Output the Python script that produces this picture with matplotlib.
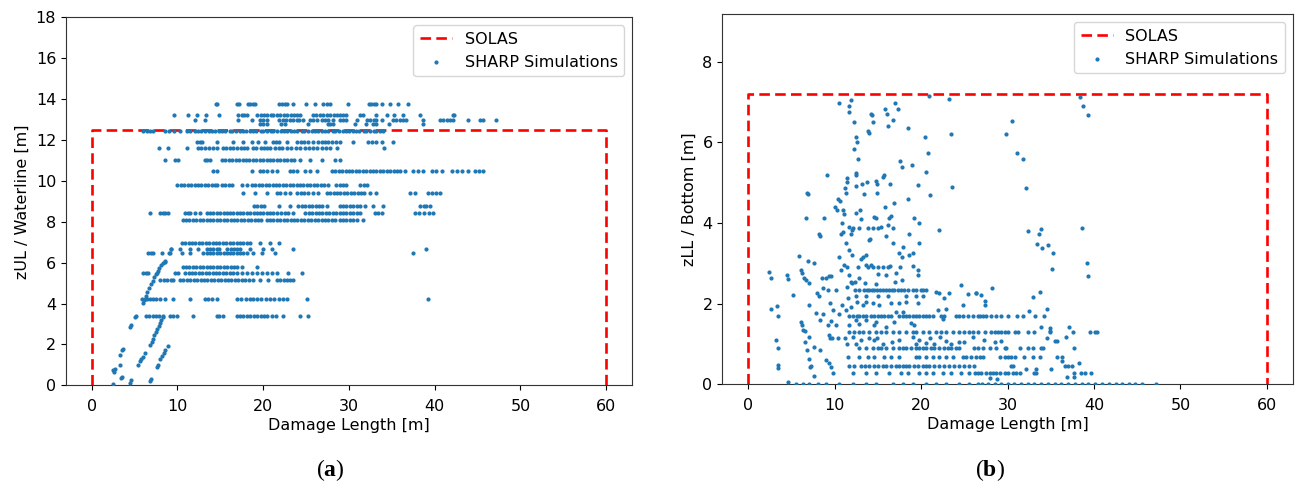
import numpy as np
import matplotlib.pyplot as plt

plt.rcParams['font.family'] = ['DejaVu Sans']
plt.rcParams['font.size'] = 11.5
plt.rcParams['xtick.major.pad'] = 6

# SOLAS damage envelopes
solas_x = [0, 0, 60, 60]
solas_a_y = [0, 12.5, 12.5, 0]
solas_b_y = [0, 7.2, 7.2, 0]

# ---- panel (a): zUL / waterline, points grouped by horizontal level ----
a_rows = {
    13.75: [14.5, 14.6, 17.0, 17.2, 18.2, 18.5, 18.8, 19.1, 21.9, 22.2, 22.5, 22.8, 23.5, 25.0, 26.0,
            27.0, 27.4, 27.8, 29.9, 32.3, 32.6, 32.9, 33.2, 33.8, 34.8, 35.7, 36.9],
    13.2: [9.6, 11.2, 12.3, 13.3, 14.9, 17.1, 17.5, 17.8, 18.1, 19.3, 19.7, 20.1, 20.5, 20.9, 21.1, 21.6,
           22.0, 22.4, 22.8, 23.2, 23.6, 24.0, 24.3, 25.8, 26.2, 26.6, 27.0, 27.4, 27.8, 28.2, 28.6, 29.0,
           29.3, 29.7, 31.3, 31.6, 33.2, 34.4, 35.3, 36.3, 38.3, 42.1, 42.3],
    12.97: [12.1, 13.2, 17.1, 18.7, 19.6, 20.0, 20.4, 21.9, 22.3, 22.7, 23.1, 23.5, 23.9, 24.2, 24.6, 25.4,
            25.8, 26.3, 26.8, 27.2, 27.6, 28.1, 28.9, 29.3, 29.7, 30.9, 32.1, 32.5, 32.9, 33.2, 33.9, 35.1,
            35.5, 35.9, 36.3, 36.7, 38.6, 40.6, 41.0, 41.4, 41.8, 42.1, 43.9, 45.3, 45.6, 47.2],
    12.78: [19.6, 20.0, 20.4, 22.1, 22.5, 25.2, 27.5, 27.8, 28.1, 30.7, 32.0, 32.8, 33.2, 34.7, 38.6],
    12.45: [6.0, 6.4, 6.8, 7.2, 8.5, 9.0, 9.6, 10.3, 11.1, 11.5, 12.0, 12.4, 12.8, 13.2, 13.7, 14.0, 14.4,
            14.9, 15.2, 15.6, 16.1, 16.4, 16.8, 17.3, 17.6, 18.0, 18.5, 18.8, 19.2, 19.7, 20.0, 20.4, 20.9,
            21.2, 21.6, 22.1, 22.4, 22.8, 23.3, 23.6, 24.0, 24.5, 24.8, 25.2, 25.7, 26.0, 26.4, 26.9, 27.2,
            27.6, 28.1, 28.4, 28.8, 29.3, 29.6, 30.0, 30.5, 30.8, 31.2, 31.7, 32.0, 32.4, 32.9, 33.2, 33.6, 34.0],
    11.88: [12.3, 12.6, 12.9, 14.6, 16.5, 17.7, 18.7, 19.4, 20.2, 21.1, 21.5, 21.9, 22.8, 24.0, 24.4, 24.8,
            25.2, 25.8, 26.4, 26.8, 27.2, 27.6, 28.0, 28.5, 29.0, 30.5, 32.2, 32.7, 33.2, 33.8, 35.1],
    11.59: [7.9, 8.9, 11.1, 12.4, 12.8, 13.2, 13.7, 14.1, 14.6, 15.3, 15.7, 16.1, 16.5, 17.0, 17.4, 17.8,
            18.1, 18.8, 19.2, 19.7, 20.1, 20.5, 20.8, 21.4, 21.8, 22.2, 22.8, 23.3, 23.8, 24.3, 24.9, 25.3,
            25.8, 26.3, 26.8, 27.3, 27.8, 28.6, 34.1],
    11.02: [8.5, 9.7, 10.1, 13.2, 13.5, 13.8, 15.2, 15.6, 16.0, 16.4, 16.8, 17.2, 17.6, 18.0, 18.4, 18.8,
            19.2, 19.6, 20.0, 20.4, 20.8, 21.2, 21.6, 22.0, 22.4, 22.8, 23.2, 23.6, 24.3, 25.4, 26.8, 28.4, 28.9],
    10.5: [14.2, 14.6, 18.7, 19.6, 20.0, 20.4, 21.0, 21.6, 23.1, 23.5, 23.9, 24.9, 25.5, 26.3, 28.0, 28.4,
           28.8, 29.2, 29.6, 30.0, 30.4, 30.8, 31.2, 31.6, 32.0, 32.4, 32.8, 33.2, 33.6, 34.0, 34.4, 34.8,
           35.2, 35.6, 36.0, 36.5, 37.5, 38.0, 38.6, 39.7, 40.2, 40.8, 42.0, 42.6, 43.2, 43.9, 44.7, 45.2, 45.6],
    9.79: [10.0, 10.4, 10.8, 11.2, 11.6, 12.0, 12.4, 12.8, 13.2, 13.6, 14.0, 14.4, 14.6, 15.2, 15.6, 16.0,
           16.4, 17.5, 18.1, 18.7, 19.1, 19.5, 19.9, 20.3, 20.7, 21.1, 21.5, 21.9, 22.3, 22.7, 23.1, 23.5,
           23.9, 24.3, 24.7, 25.1, 25.5, 25.9, 26.3, 26.7, 27.1, 27.5, 28.5, 28.9, 29.3, 29.7, 31.3, 31.7, 32.1],
    9.42: [17.6, 19.0, 20.4, 21.6, 22.0, 22.5, 23.1, 24.0, 24.4, 24.8, 25.2, 25.8, 26.4, 27.4, 27.8, 28.2,
           28.6, 29.0, 29.4, 29.8, 30.2, 30.6, 31.0, 31.4, 31.8, 32.4, 33.2, 37.1, 37.7, 39.2, 39.7, 40.2, 40.6],
    8.78: [18.9, 19.3, 19.7, 20.1, 21.9, 23.1, 24.1, 24.5, 24.9, 25.3, 25.7, 26.1, 26.5, 26.9, 27.4, 28.9,
           29.3, 29.7, 30.1, 30.5, 30.9, 31.3, 31.9, 32.8, 34.0, 38.3, 38.7, 39.0, 39.4],
    8.44: [6.8, 8.0, 8.3, 8.6, 8.9, 10.9, 11.2, 11.5, 12.0, 12.6, 13.4, 13.8, 14.2, 14.6, 15.0, 15.4, 15.8,
           16.1, 16.5, 16.9, 17.3, 17.7, 18.1, 18.5, 18.9, 19.3, 19.6, 20.0, 20.4, 20.8, 21.2, 21.6, 22.1,
           22.5, 22.9, 23.5, 24.9, 25.3, 25.7, 26.1, 26.5, 26.9, 27.3, 27.7, 28.1, 28.5, 28.9, 29.3, 29.7,
           30.1, 30.5, 30.9, 31.3, 33.0, 33.4, 33.8, 37.7, 38.2, 38.7, 39.3, 39.8],
    8.08: [10.6, 11.0, 11.4, 11.8, 12.2, 12.6, 13.0, 13.4, 13.8, 14.2, 14.6, 15.0, 15.4, 15.8, 16.2, 16.6,
           17.0, 17.4, 17.8, 18.2, 18.6, 19.0, 19.4, 19.8, 20.4, 20.8, 21.2, 21.6, 22.0, 22.4, 22.8, 23.2,
           23.6, 24.0, 24.4, 24.8, 25.2, 25.6, 26.0, 26.4, 26.8, 27.2, 27.6, 28.0, 28.4, 28.9, 29.3, 29.7,
           30.1, 30.5, 30.9, 31.6],
    6.94: [10.5, 10.9, 11.3, 11.7, 12.1, 12.5, 12.9, 13.3, 13.7, 14.1, 14.5, 14.9, 15.3, 15.7, 16.1, 16.5,
           16.9, 17.3, 17.7, 18.1, 18.5, 19.6, 20.8, 21.9],
    6.66: [9.3, 10.3, 11.5, 12.4, 13.4, 13.8, 14.2, 14.6, 14.9, 15.8, 16.2, 16.6, 17.0, 17.3, 18.5, 20.0,
           21.0, 23.5, 39.0],
    6.45: [6.6, 6.9, 7.2, 8.2, 9.1, 10.5, 11.5, 13.0, 13.4, 13.8, 14.2, 14.6, 15.0, 15.4, 15.8, 16.1, 16.5,
           16.9, 17.3, 17.7, 18.1, 18.8, 19.9, 21.4, 37.5],
    5.8: [10.6, 11.0, 11.4, 11.8, 12.2, 12.6, 13.0, 13.4, 13.8, 14.2, 14.6, 15.0, 15.4, 15.8, 16.2, 16.6,
          16.9, 17.5, 19.3],
    5.48: [6.0, 6.3, 6.6, 7.6, 9.7, 10.1, 10.9, 11.3, 11.7, 12.1, 12.5, 12.9, 13.3, 13.7, 14.1, 14.5, 14.9,
           15.3, 15.7, 16.1, 16.5, 16.9, 17.5, 18.1, 18.7, 19.3, 19.9, 20.5, 21.0, 21.6, 22.9, 24.5],
    5.15: [8.0, 8.4, 8.8, 9.2, 9.5, 10.3, 10.7, 11.1, 11.5, 11.9, 12.3, 12.7, 13.1, 13.5, 13.9, 14.3, 14.7,
           15.1, 15.5, 15.9, 16.3, 16.7, 17.1, 17.5, 17.9, 18.3, 18.8, 19.6, 20.6, 21.6, 22.0, 22.4, 22.8,
           23.1, 23.5],
    4.2: [5.9, 6.2, 6.5, 6.8, 7.1, 7.5, 8.0, 8.5, 9.5, 11.5, 13.2, 13.6, 14.0, 14.6, 16.9, 17.4, 18.0, 18.5,
          18.8, 19.3, 19.8, 20.3, 20.8, 21.3, 21.8, 22.3, 22.8, 25.1, 39.2],
    3.4: [5.2, 6.3, 6.7, 7.1, 7.5, 7.9, 8.3, 9.1, 9.5, 9.9, 11.8, 14.6, 14.9, 15.3, 16.9, 17.3, 17.7, 18.1,
          18.5, 18.9, 19.3, 19.7, 20.1, 20.5, 21.0, 21.5, 22.3, 24.3, 25.2],
}

# sloped groups and isolated points of panel (a)
a_free_x = [6.0, 6.1, 6.3, 6.5, 6.7, 6.9, 7.1, 7.3, 7.5, 7.7, 7.9, 8.1, 8.3, 8.5, 8.6, 9.0, 9.3,
            2.5, 2.7, 2.6, 3.3, 3.5, 3.4, 3.3, 3.6, 3.5, 2.5, 4.46, 4.6, 4.5, 4.6, 5.1,
            5.4, 5.6, 5.8, 6.0, 6.2, 6.8, 6.95, 7.6, 7.7, 8.0, 8.2, 8.4, 8.6, 8.9,
            6.8, 7.0, 7.1, 7.3, 7.5, 7.6, 7.8, 8.0, 8.1, 8.3]
a_free_y = [4.05, 4.15, 4.35, 4.55, 4.75, 4.95, 5.1, 5.3, 5.45, 5.6, 5.75, 5.9, 6.0, 6.05, 6.1, 6.45, 6.65,
            0.75, 0.8, 0.65, 1.0, 0.42, 0.35, 1.48, 1.8, 1.75, 0.04, 0.13, 0.25, 2.87, 2.95, 3.35,
            1.0, 1.2, 1.3, 1.4, 1.6, 0.2, 0.3, 0.88, 1.0, 1.3, 1.45, 1.6, 1.75, 1.92,
            1.97, 2.1, 2.25, 2.45, 2.6, 2.75, 2.9, 3.05, 3.2, 3.35]

# ---- panel (b): zLL / bottom ----
b_rows = {
    3.89: [12.09, 12.86, 13.82, 14.40, 14.98],
    2.33: [12.86, 13.44, 13.71, 14.02, 14.33, 14.60, 14.87, 15.25, 15.56, 15.95, 16.33, 16.64, 16.91,
           17.30, 17.68, 18.07, 18.46, 19.03, 19.42, 20.00, 20.27, 20.58],
    2.2: [12.47, 13.63, 14.98, 16.14, 18.26, 19.42, 20.19],
    1.69: [11.62, 12.09, 12.55, 12.86, 13.32, 13.63, 14.21, 14.60, 14.98, 15.37, 15.75, 16.14, 16.53,
           17.49, 17.88, 18.26, 18.65, 19.03, 19.42, 19.81, 20.19, 20.58, 20.97, 21.35, 22.32, 22.70,
           24.05, 24.44, 24.83, 25.41, 25.99, 26.56, 26.77, 27.15, 27.54, 28.12, 28.70, 29.28, 30.05,
           31.13, 31.79, 33.14, 34.18],
    1.30: [11.70, 12.28, 12.86, 13.24, 14.02, 14.79, 15.37, 15.95, 16.72, 17.49, 18.26, 19.03, 19.42,
           20.19, 20.97, 21.74, 22.32, 22.90, 23.67, 24.44, 25.02, 25.52, 25.99, 26.56, 27.35, 28.12,
           28.51, 28.89, 29.28, 29.67, 30.05, 30.82, 31.21, 32.37, 33.06, 34.88, 37.58, 39.51, 40.09, 40.40],
    0.89: [12.86, 13.63, 14.40, 14.98, 15.37, 15.95, 16.72, 17.49, 17.88, 18.26, 18.84, 19.42, 19.81,
           20.27, 20.58, 21.16, 21.55, 22.12, 22.70, 23.09, 23.48, 24.05, 24.44, 26.18, 26.56, 27.16,
           27.93, 28.70, 29.67, 29.86, 31.40, 32.37, 32.95, 33.91, 34.10, 37.66],
    0.68: [11.51, 12.86, 13.82, 14.60, 15.75, 16.53, 17.49, 19.42, 19.81, 20.58, 21.35, 22.12, 22.90,
           23.67, 24.83, 25.21, 25.79, 26.37, 26.77, 27.16, 29.09, 29.67, 30.05, 30.44, 30.82, 31.90,
           32.95, 33.80, 35.77, 36.31],
    0.45: [11.70, 12.28, 13.05, 13.55, 14.02, 14.60, 14.98, 15.56, 15.95, 16.53, 17.10, 17.49, 17.88,
           18.26, 18.65, 19.23, 19.61, 20.19, 20.58, 20.97, 21.55, 22.12, 22.70, 23.28, 23.86, 24.44,
           25.02, 25.60, 26.18, 30.44, 30.63, 36.60, 36.99, 37.46],
    0.29: [12.09, 13.63, 14.79, 16.33, 17.68, 18.46, 19.81, 20.58, 21.35, 22.51, 23.48, 24.63, 25.60,
           26.19, 26.58, 26.96, 27.54, 27.93, 28.31, 28.70, 29.09, 29.67, 30.05, 30.63, 31.02, 31.40,
           33.02, 33.26, 37.70, 38.47, 38.93, 39.70],
    0.0: [5.5, 6.3, 7.07, 8.03, 9.0, 10.54, 12.09, 13.63, 14.79, 16.72, 17.88, 19.03, 20.58, 21.74, 22.9,
          24.44, 25.6, 26.56, 27.0, 27.7, 28.5, 29.3, 30.0, 30.8, 31.6, 32.4, 33.1, 33.9, 34.7, 35.5,
          36.2, 37.0, 37.8, 38.6, 39.3, 40.1, 40.9, 41.7, 42.5, 43.2, 44.0, 44.8, 45.6, 47.2],
}

b_free_x = [10.54, 11.62, 11.85, 11.62, 14.21, 14.33, 15.83, 16.02, 17.03, 17.30, 16.80, 16.22, 12.28,
            14.48, 13.90, 14.02, 18.50, 20.89, 23.28, 12.47, 12.55, 12.20, 23.51, 20.43, 20.85, 12.66,
            17.57, 17.80, 18.96, 20.54, 9.15, 11.43, 11.47, 12.47, 12.47, 15.75, 15.56, 14.79, 14.94,
            13.71, 13.13, 12.47, 16.41, 11.24, 11.31, 13.40, 14.87, 19.69, 21.08, 23.55, 6.80, 6.91,
            10.39, 10.62, 10.08, 10.27, 10.93, 11.08, 18.50, 16.83, 15.83, 12.97, 12.47, 16.53, 16.33,
            14.60, 14.79, 13.09, 6.68, 8.77, 19.15, 19.81, 10.81, 11.62, 15.37, 16.14, 16.72,
            8.15, 8.30, 10.73, 11.00, 11.93, 12.01, 15.95, 13.94, 14.09, 18.57, 22.05, 11.31, 16.80,
            17.88, 19.81, 11.62, 11.97, 5.91, 6.87, 7.65, 10.54, 13.05, 13.32, 13.63, 17.49, 17.76,
            18.57, 19.11, 11.12, 11.39, 12.66, 13.63, 13.82, 14.21, 14.40, 15.06, 15.56, 16.14, 16.45,
            17.53, 19.03, 19.61, 2.43, 2.63, 4.44, 4.60, 6.10, 6.18, 6.49, 6.68, 6.99, 10.73, 11.70,
            9.00, 9.31, 9.58, 11.89, 12.39, 12.86, 13.55, 14.79, 15.02, 15.95, 17.10, 17.80, 19.61,
            17.03, 8.53, 8.69, 7.92, 8.15, 9.19, 10.16, 11.39, 12.39, 12.01,
            5.14, 2.63, 3.28, 3.48, 7.07, 9.46, 9.77, 10.54, 8.61, 7.84, 8.34, 9.58, 10.16, 10.85,
            11.51, 11.89, 11.31, 12.55, 13.24, 13.63, 14.40, 15.17, 16.53, 17.49, 18.26, 19.61, 22.70,
            23.28, 24.82, 25.41, 26.37, 24.64, 21.74, 22.12,
            38.35, 38.74, 39.32, 30.51, 29.78, 31.13, 31.83, 32.10, 38.58, 32.37, 33.60, 33.91, 33.45,
            33.99, 34.68, 35.22, 35.11, 39.16, 39.32, 28.20, 26.38, 26.96, 27.35, 27.35, 32.91, 33.76,
            32.48, 34.61,
            9.19, 11.70, 12.47, 12.86, 13.63, 14.60, 14.79, 15.95, 16.91, 17.10, 17.88, 18.84, 19.23,
            21.93, 22.51, 22.90, 33.91, 34.88, 34.88, 37.12,
            6.10, 6.18, 6.37, 6.53, 6.99, 9.38, 9.46, 9.69, 10.35, 11.24, 11.39, 12.09, 12.47, 13.05,
            14.02, 14.60, 14.87, 15.64, 16.64, 17.41, 19.11, 19.42, 19.73, 20.58, 21.04, 21.55, 22.24,
            22.90, 23.48, 24.36, 25.02, 25.99,
            3.21, 3.48, 6.60, 6.76, 7.65, 8.30, 34.60, 35.46, 35.77, 36.81, 27.23, 28.58, 29.28,
            7.07, 7.14, 7.26, 7.57, 9.00, 9.38, 9.58, 9.85, 3.40, 3.48, 4.56,
            36.31, 38.31, 32.10, 33.26, 35.07, 27.93, 28.82, 36.85, 37.70]
b_free_y = [6.99, 6.90, 7.05, 6.76, 6.70, 6.68, 6.83, 6.70, 6.97, 6.83, 6.57, 6.41, 6.50,
            6.51, 6.29, 6.24, 6.36, 7.15, 7.08, 6.14, 6.00, 5.85, 6.21, 6.13, 5.74, 5.58,
            5.54, 5.38, 5.45, 5.28, 5.19, 5.13, 5.03, 5.24, 5.19, 5.19, 5.15, 5.05, 4.98,
            5.03, 4.96, 4.92, 4.98, 4.86, 4.74, 4.71, 4.74, 4.94, 4.70, 4.90, 4.75, 4.73,
            4.59, 4.55, 4.39, 4.32, 4.32, 4.22, 4.61, 4.49, 4.41, 4.32, 4.26, 4.17, 4.12,
            4.16, 4.12, 4.09, 4.12, 4.12, 4.12, 3.99, 4.01, 3.91, 3.91, 3.95, 3.89,
            3.74, 3.69, 3.73, 3.78, 3.73, 3.83, 3.69, 3.58, 3.60, 3.73, 3.84, 3.51, 3.50,
            3.40, 3.50, 3.33, 3.21, 3.18, 3.07, 3.02, 3.16, 3.12, 3.16, 3.21, 3.25, 3.16,
            3.21, 3.26, 2.96, 2.92, 2.92, 2.96, 2.92, 2.96, 2.92, 2.92, 2.92, 2.92, 2.94,
            2.92, 2.94, 2.83, 2.79, 2.64, 2.71, 2.62, 2.83, 2.75, 2.65, 2.60, 2.52, 2.83, 2.71,
            2.63, 2.68, 2.68, 2.54, 2.54, 2.63, 2.52, 2.49, 2.73, 2.71, 2.75, 2.60, 2.71,
            2.54, 2.63, 2.40, 2.27, 2.19, 2.34, 2.34, 2.42, 2.35, 2.52,
            2.21, 1.88, 1.94, 1.69, 1.98, 2.01, 1.84, 1.74, 1.74, 1.77, 1.59, 1.58, 1.47, 1.97,
            2.13, 1.92, 1.84, 2.05, 1.97, 2.05, 2.01, 1.97, 2.01, 2.01, 2.05, 2.01, 2.13,
            2.27, 1.97, 2.24, 2.26, 2.46, 2.30, 2.26,
            7.12, 6.90, 6.68, 6.53, 6.20, 5.74, 5.60, 4.86, 3.89, 3.81, 3.74, 3.85, 3.47,
            3.39, 3.45, 3.26, 2.86, 3.00, 2.68, 2.40, 2.27, 2.22, 2.07, 1.97, 2.17, 2.28,
            1.82, 1.87,
            1.47, 1.47, 1.59, 1.50, 1.59, 1.47, 1.55, 1.43, 1.55, 1.80, 1.80, 1.51, 1.47,
            1.84, 1.63, 1.88, 1.43, 1.40, 1.33, 1.41,
            1.55, 1.47, 1.36, 1.33, 1.18, 1.22, 1.16, 1.14, 1.14, 1.14, 1.01, 1.18, 1.01, 1.10,
            1.14, 1.10, 1.16, 1.01, 1.04, 1.11, 1.18, 1.01, 1.10, 1.03, 1.14, 1.01, 1.18,
            1.08, 1.01, 1.05, 1.05, 1.18,
            1.10, 0.91, 1.06, 0.85, 0.93, 0.85, 1.16, 1.08, 1.08, 1.18, 1.10, 1.04, 1.08,
            0.62, 0.44, 0.46, 0.21, 0.60, 0.52, 0.42, 0.29, 0.48, 0.40, 0.06,
            0.58, 0.54, 0.38, 0.37, 0.37, 0.15, 0.12, 0.17, 0.19]


def collect(rows, free_x, free_y):
    xs, ys = list(free_x), list(free_y)
    for level, vals in rows.items():
        xs += vals
        ys += [level] * len(vals)
    return np.array(xs), np.array(ys)


a_x, a_y = collect(a_rows, a_free_x, a_free_y)
b_x, b_y = collect(b_rows, b_free_x, b_free_y)

fig = plt.figure(figsize=(12.96, 4.95), dpi=100)
ax0 = fig.add_axes([0.0509, 0.2216, 0.4367, 0.7434])
ax1 = fig.add_axes([0.5573, 0.2236, 0.4402, 0.7475])

panels = [(ax0, a_x, a_y, solas_a_y, "zUL / Waterline [m]", (0, 18)),
          (ax1, b_x, b_y, solas_b_y, "zLL / Bottom [m]", (0, 9.18))]
for ax, x, y, sy, ylab, ylim in panels:
    ax.plot(solas_x, sy, color="red", lw=1.9, dashes=(4, 2), label="SOLAS")
    ax.scatter(x, y, s=4, color="#1f77b4", label="SHARP Simulations", zorder=3)
    ax.set_xlim(-3, 63)
    ax.set_ylim(*ylim)
    ax.set_xlabel("Damage Length [m]", labelpad=3)
    ax.set_ylabel(ylab)
    ax.legend(loc="upper right")
    for sp in ax.spines.values():
        sp.set_color("#333333")

ax0.set_yticks(np.arange(0, 19, 2))
ax1.set_yticks([0, 2, 4, 6, 8])

plt.rcParams['mathtext.fontset'] = 'custom'
plt.rcParams['mathtext.bf'] = 'Liberation Serif:bold'
fig.text(330 / 1296, 1 - 470 / 495, r"($\mathbf{a}$)", family="Liberation Serif", fontsize=17,
         ha="center", va="center")
fig.text(990 / 1296, 1 - 470 / 495, r"($\mathbf{b}$)", family="Liberation Serif", fontsize=17,
         ha="center", va="center")

fig.savefig("out.png", dpi=100)
